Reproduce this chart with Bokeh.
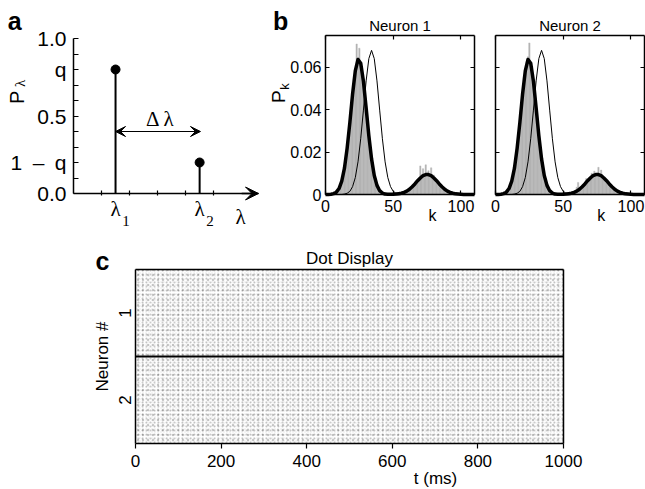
import math
from bokeh.plotting import figure
from bokeh.layouts import row, column
from bokeh.models import Range1d, FixedTicker, LinearAxis, Label, Arrow, VeeHead
from bokeh.embed import file_html
from bokeh.resources import INLINE

SANS = "Liberation Sans"
SERIF = "Liberation Serif"
GRAY = "#b4b4b4"

# ---------------- panel a data ----------------
lam_pos = [1.5, 4.5]
lam_prob = [0.8, 0.2]
lam_subs = ["1", "2"]
pa_xspan = [0, 6.6]
pa_yspan = [0.0, 1.0]
pa_yticks = [0.0, 0.2, 0.5, 0.8, 1.0]
pa_ylabels = ["0.0", "1\u2002\u2013\u2002q", "0.5", "q", "1.0"]
pa_yminor = [0.1, 0.3, 0.4, 0.6, 0.7, 0.9]
pa_xticks = [1, 2, 3, 4, 5]

# ---------------- panel b data ----------------
k_bins = list(range(0, 111))
hist_n1 = [
    0, 0, 0, 0, 0, 0, 0.0003, 0.0006, 0.0010, 0.0018,
    0.0030, 0.0042, 0.0064, 0.0088, 0.0125, 0.0168, 0.0218, 0.0282, 0.0345, 0.0415,
    0.0478, 0.0545, 0.0590, 0.0710, 0.0645, 0.0690, 0.0615, 0.0598, 0.0548, 0.0472,
    0.0418, 0.0342, 0.0280, 0.0215, 0.0168, 0.0122, 0.0090, 0.0062, 0.0044, 0.0028,
    0.0019, 0.0012, 0.0008, 0.0004, 0.0002, 0.0001, 0.0001, 0, 0.0001, 0,
    0.0001, 0.0001, 0.0002, 0.0002, 0.0003, 0.0004, 0.0007, 0.0008, 0.0011, 0.0013,
    0.0018, 0.0021, 0.0026, 0.0031, 0.0036, 0.0044, 0.0049, 0.0058, 0.0064, 0.0074,
    0.0135, 0.0080, 0.0122, 0.0088, 0.0140, 0.0096, 0.0112, 0.0090, 0.0126, 0.0082,
    0.0092, 0.0071, 0.0067, 0.0056, 0.0051, 0.0043, 0.0037, 0.0031, 0.0025, 0.0020,
    0.0016, 0.0012, 0.0010, 0.0007, 0.0006, 0.0004, 0.0003, 0.0002, 0.0002, 0.0001,
    0.0001, 0.0001, 0, 0, 0, 0, 0, 0, 0, 0, 0,
]
hist_n2 = [
    0, 0, 0, 0, 0, 0, 0.0002, 0.0005, 0.0011, 0.0017,
    0.0029, 0.0044, 0.0061, 0.0091, 0.0122, 0.0171, 0.0214, 0.0286, 0.0340, 0.0421,
    0.0470, 0.0552, 0.0582, 0.0628, 0.0650, 0.0715, 0.0622, 0.0605, 0.0540, 0.0478,
    0.0410, 0.0346, 0.0276, 0.0219, 0.0164, 0.0126, 0.0088, 0.0064, 0.0042, 0.0029,
    0.0018, 0.0013, 0.0007, 0.0004, 0.0003, 0.0001, 0, 0.0001, 0, 0,
    0.0001, 0.0002, 0.0001, 0.0003, 0.0004, 0.0005, 0.0006, 0.0009, 0.0012, 0.0015,
    0.0034, 0.0057, 0.0024, 0.0033, 0.0038, 0.0042, 0.0052, 0.0075, 0.0062, 0.0072,
    0.0084, 0.0100, 0.0083, 0.0110, 0.0092, 0.0095, 0.0128, 0.0090, 0.0115, 0.0085,
    0.0080, 0.0074, 0.0065, 0.0060, 0.0050, 0.0045, 0.0036, 0.0030, 0.0026, 0.0019,
    0.0015, 0.0013, 0.0009, 0.0007, 0.0005, 0.0004, 0.0003, 0.0002, 0.0001, 0.0001,
    0.0001, 0, 0, 0, 0, 0, 0, 0, 0, 0, 0,
]
k_fit = list(range(0, 111, 2))
fit_thick = [
    0, 0, 0.0001, 0.0004, 0.0011, 0.0028, 0.0063, 0.0124, 0.0220, 0.0340,
    0.0474, 0.0583, 0.0637, 0.0619, 0.0534, 0.0408, 0.0277, 0.0168, 0.0090, 0.0043,
    0.0018, 0.0007, 0.0002, 0.0001, 0.0001, 0.0001, 0.0002, 0.0004, 0.0006, 0.0010,
    0.0016, 0.0025, 0.0037, 0.0050, 0.0065, 0.0078, 0.0089, 0.0094, 0.0094, 0.0089,
    0.0078, 0.0065, 0.0050, 0.0037, 0.0025, 0.0016, 0.0010, 0.0006, 0.0003, 0.0002,
    0.0001, 0, 0, 0, 0, 0,
]
fit_thin = [
    0, 0, 0, 0, 0, 0, 0,
    0.0002, 0.0006, 0.0015, 0.0037, 0.0080, 0.0154, 0.0263, 0.0398, 0.0536, 0.0641,
    0.0680, 0.0641, 0.0536, 0.0398, 0.0263, 0.0154, 0.0080, 0.0037, 0.0015, 0.0006, 0.0002,
    0, 0, 0, 0, 0, 0, 0, 0, 0, 0, 0, 0, 0, 0, 0, 0, 0, 0, 0, 0, 0, 0, 0, 0, 0, 0, 0, 0,
]
pb_xspan = [0, 110]
pb_yspan = [0, 0.075]
pb_xticks = [0, 50, 100]
pb_yticks = [0, 0.02, 0.04, 0.06]
pb_ylabels = ["0", "0.02", "0.04", "0.06"]
pb_titles = ["Neuron 1", "Neuron 2"]

# ---------------- panel c data ----------------
t_span = [0, 1000]
n_span = [0, 2]
t_ticks = [0, 200, 400, 600, 800, 1000]
neuron_pos = [0.5, 1.5]
neuron_labels = ["1", "2"]
neuron_split = 1


def base_fig(w, h, xr, yr):
    p = figure(output_backend="svg", toolbar_location=None,
               x_axis_type=None, y_axis_type=None,
               width=w, height=h, x_range=Range1d(*xr), y_range=Range1d(*yr),
               min_border=0)
    p.background_fill_color = "white"
    p.border_fill_color = "white"
    p.outline_line_color = None
    return p


def lab(p, x, y, text, size, font=SANS, style="normal", angle=0.0,
        align="center", baseline="middle"):
    p.add_layout(Label(x=x, y=y, text=text, text_font=font,
                       text_font_size=f"{size}px", text_font_style=style,
                       angle=angle, text_align=align, text_baseline=baseline,
                       text_color="black"))


def add_axis(p, side, loc, bounds, ticks, minor=None, labels=None, tin=0, tout=0,
             lsize="16px", standoff=5, line_width=1.5, orient="horizontal"):
    ax = LinearAxis(fixed_location=loc, bounds=tuple(bounds),
                    ticker=FixedTicker(ticks=ticks, minor_ticks=minor or []))
    ax.major_tick_in = tin
    ax.major_tick_out = tout
    ax.minor_tick_in = tin
    ax.minor_tick_out = tout
    ax.major_tick_line_color = "black" if (tin or tout) else None
    ax.minor_tick_line_color = "black" if minor else None
    ax.major_tick_line_width = 1.2
    ax.minor_tick_line_width = 1.2
    ax.axis_line_color = "black"
    ax.axis_line_width = line_width
    ax.major_label_text_font = SANS
    ax.major_label_text_font_size = lsize
    ax.major_label_standoff = standoff
    ax.major_label_orientation = orient
    if labels is None:
        ax.major_label_text_color = None
    else:
        ax.major_label_text_color = "black"
        ax.major_label_overrides = {t: s for t, s in zip(ticks, labels)}
    p.add_layout(ax, side)
    return ax


# ================= panel a =================
# axes box: x 0..6.6 -> px 73..258, y 0..1 -> px 193..38 (figure 262 x 232)
pa_sx = 185 / 6.6
pa = base_fig(262, 232, (-73 / pa_sx, 189 / pa_sx), (-39 / 155, 193 / 155))
add_axis(pa, "left", pa_xspan[0], pa_yspan, pa_yticks, minor=pa_yminor,
         labels=pa_ylabels, tin=5, tout=0, lsize="21px", standoff=7)
add_axis(pa, "below", pa_yspan[0], pa_xspan, pa_xticks, tin=3, tout=2)
pa.add_layout(Arrow(end=VeeHead(size=13, fill_color="black", line_color="black", line_width=1),
                    x_start=6.0, y_start=0, x_end=pa_xspan[1], y_end=0,
                    line_color="black", line_width=1.5))
pa.segment(x0=lam_pos, y0=0, x1=lam_pos, y1=lam_prob, line_color="black", line_width=2)
pa.scatter(lam_pos, lam_prob, size=9, color="black")
pa.add_layout(Arrow(start=VeeHead(size=10, fill_color="black", line_color="black", line_width=1),
                    end=VeeHead(size=10, fill_color="black", line_color="black", line_width=1),
                    x_start=lam_pos[0], y_start=0.4, x_end=4.53, y_end=0.4,
                    line_color="black", line_width=1))
lab(pa, 3.1, 0.48, "\u0394 \u03bb", 21, font=SERIF)
for xp, s in zip(lam_pos, lam_subs):
    lab(pa, xp, -0.097, "\u03bb", 21, font=SERIF)
    lab(pa, xp + 0.37, -0.178, s, 15, font=SERIF)
lab(pa, 5.96, -0.15, "\u03bb", 21, font=SERIF)
lab(pa, -2.03, 0.62, "P", 20, angle=math.pi / 2)
lab(pa, -1.90, 0.71, "\u03bb", 15, font=SERIF, angle=math.pi / 2)
lab(pa, -2.1, 1.115, "a", 25, style="bold")

# ================= panel b =================
pb_sx = 149 / 110
pb_sy = 159 / 0.075


def make_b(hist, title, w, box_left, show_y):
    p = base_fig(w, 232, (-box_left / pb_sx, (w - box_left) / pb_sx),
                 (-38 / pb_sy, 194 / pb_sy))
    p.vbar(x=k_bins, top=hist, width=1, fill_color=GRAY, line_color=GRAY, line_width=0.4)
    p.line(k_fit, fit_thin, line_color="black", line_width=1)
    p.line(k_fit, fit_thick, line_color="black", line_width=3.5, line_join="round")
    add_axis(p, "left", pb_xspan[0], pb_yspan, pb_yticks,
             labels=(pb_ylabels if show_y else None), tin=4, standoff=4)
    add_axis(p, "right", pb_xspan[1], pb_yspan, pb_yticks, tin=4)
    add_axis(p, "below", pb_yspan[0], pb_xspan, pb_xticks,
             labels=[str(t) for t in pb_xticks], tin=4, standoff=5)
    add_axis(p, "above", pb_yspan[1], pb_xspan, pb_xticks, tin=4)
    lab(p, 55, 0.0797, title, 15)
    return p


pb1 = make_b(hist_n1, pb_titles[0], 218, 63, True)
lab(pb1, 79, -0.0100, "k", 16)
lab(pb1, -34.5, 0.0462, "P", 19, angle=math.pi / 2)
lab(pb1, -30.0, 0.0510, "k", 13, angle=math.pi / 2)
lab(pb1, -33.2, 0.082, "b", 25, style="bold")

pb2 = make_b(hist_n2, pb_titles[1], 165, 15, False)
lab(pb2, 78, -0.0100, "k", 16)

# ================= panel c =================
# box: x 0..1000 -> px 135..563, y 0 (top, px 37) .. 2 (bottom, px 211); figure 645 x 257
pc_sx = 428 / 1000
pc_sy = 174 / 2
pc = base_fig(645, 257, (-135 / pc_sx, 510 / pc_sx), (2 + 46 / pc_sy, -37 / pc_sy))
for scale, alpha in [(4, 0.22), (5, 0.22), (3, 0.10)]:
    pc.quad(left=[t_span[0]], right=[t_span[1]], bottom=[n_span[0]], top=[n_span[1]],
            fill_color=None, line_color=None,
            hatch_pattern=".", hatch_scale=scale, hatch_color="#111111",
            hatch_weight=0.3, hatch_alpha=alpha)
pc.segment(x0=t_span[0], y0=neuron_split, x1=t_span[1], y1=neuron_split,
           line_color="black", line_width=2)
add_axis(pc, "below", n_span[1], t_span, t_ticks,
         labels=[str(t) for t in t_ticks], tout=5, lsize="17px", standoff=6)
add_axis(pc, "above", n_span[0], t_span, [])
add_axis(pc, "left", t_span[0], n_span, neuron_pos, labels=neuron_labels,
         lsize="17px", standoff=5, orient="vertical")
add_axis(pc, "right", t_span[1], n_span, [])
lab(pc, -77, 1.0, "Neuron #", 17, angle=math.pi / 2)
lab(pc, 500, -0.126, "Dot Display", 17)
lab(pc, 701, 2.40, "t (ms)", 17)
lab(pc, -77, -0.103, "c", 25, style="bold")

layout = column(row(pa, pb1, pb2), pc)
open("out.html", "w").write(file_html(layout, INLINE))
